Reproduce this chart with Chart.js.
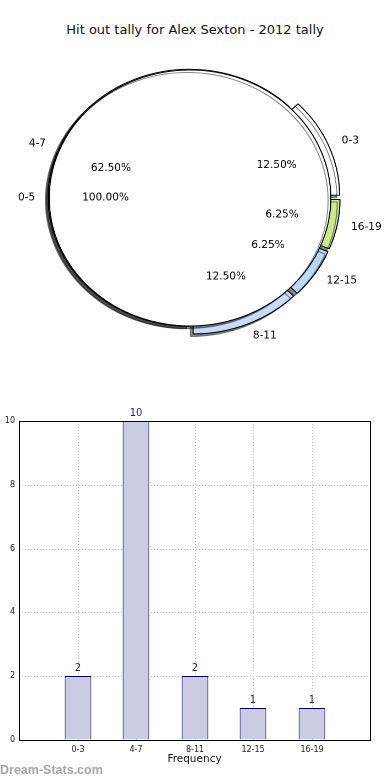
<!DOCTYPE html>
<html lang="en">
<head>
    <meta charset="UTF-8">
    <meta name="viewport" content="width=device-width, initial-scale=1.0">
    <title>Hit out tally for Alex Sexton - 2012 tally</title>
    <script src="https://cdn.jsdelivr.net/npm/chart.js"></script>
    <style>
        html, body { margin: 0; padding: 0; background: #fff; }
        body { width: 390px; height: 780px; position: relative; overflow: hidden; font-family: 'DejaVu Sans', sans-serif; }
        #title { position: absolute; left: 0; top: 22px; width: 390px; text-align: center; font-size: 13px; line-height: 16px; color: #111; }
        /* the pie is stretched a bit sideways, like the original */
        #pieBox { position: absolute; left: 13px; top: 50px; width: 354px; height: 296px; transform: scaleX(1.1); transform-origin: 50% 50%; }
        .layer { position: absolute; left: 0; top: 0; width: 100%; height: 100%; }
        #barBox { position: absolute; left: -12px; top: 400px; width: 402px; height: 380px; }
        #mark { position: absolute; left: 0; top: 763px; font: bold 12.5px 'Liberation Sans', sans-serif; color: #a6a6a6; }
    </style>
</head>
<body>
    <div id="title">Hit out tally for Alex Sexton - 2012 tally</div>
    <div id="pieBox">
        <div class="layer"><canvas id="pieBins"></canvas></div>
        <div class="layer"><canvas id="pieAll"></canvas></div>
    </div>
    <div id="barBox"><canvas id="bars"></canvas></div>
    <div id="mark">Dream-Stats.com</div>
    <script>
        const bins     = ['0-3', '4-7', '8-11', '12-15', '16-19'];
        const tally    = [2, 10, 2, 1, 1];
        const allBins  = ['0-5'];
        const allTally = [1];
        const yMax     = 10;
        const yStep    = 2;

        const binColors = ['#ffffff', '#ffffff', '#c8dcfa', '#bad8fb', '#cee98c'];
        const explode   = [8.5, 1, 8.5, 8.5, 8.5];   // px the slices are pushed out
        const SX = 1.1;                              // css stretch of the pie box
        const R  = 128;

        Chart.defaults.font.family = "'DejaVu Sans', sans-serif";
        Chart.defaults.color = '#222';

        const pieShadow = {
            id: 'pieShadow',
            beforeDatasetsDraw(chart) {
                const ctx = chart.ctx, k = chart.currentDevicePixelRatio;
                ctx.save();
                ctx.shadowColor = 'rgba(0,0,0,0.45)';
                ctx.shadowOffsetX = -2.5 * k;
                ctx.shadowOffsetY = 2.5 * k;
                ctx.shadowBlur = 0;
            },
            afterDatasetsDraw(chart) { chart.ctx.restore(); }
        };

        // labels of both pies go on the top canvas, so the big circle does not hide them
        let pieCharts = [];
        const pieText = {
            id: 'pieText',
            afterDraw(chart) {
                if (chart.canvas.id !== 'pieAll') return;
                const ctx = chart.ctx;
                ctx.save();
                ctx.fillStyle = '#000';
                ctx.font = "10.5px 'DejaVu Sans'";
                ctx.textBaseline = 'middle';
                pieCharts.forEach(pc => {
                    const vals = pc.data.datasets[0].data;
                    const total = vals.reduce((a, b) => a + b, 0);
                    pc.getDatasetMeta(0).data.forEach((arc, i) => {
                        const mid = (arc.startAngle + arc.endAngle) / 2;
                        const circ = arc.endAngle - arc.startAngle;
                        const shift = (arc.options.offset || 0) / 4 * (2 - Math.sin(Math.min(Math.PI, circ)));
                        const c = Math.cos(mid), s = Math.sin(mid);
                        const put = (txt, d, align) => {
                            const r = d * arc.outerRadius + shift;
                            ctx.save();
                            ctx.translate(arc.x + c * r, arc.y + s * r);
                            ctx.scale(1 / SX, 1);
                            ctx.textAlign = align;
                            ctx.fillText(txt, 0, 0);
                            ctx.restore();
                        };
                        put(pc.data.labels[i], 1.1, c < -1e-9 ? 'right' : 'left');
                        put((vals[i] / total * 100).toFixed(2) + '%', 0.6, 'center');
                    });
                });
                ctx.restore();
            }
        };

        function makePie(id, labels, data, colors, shifts, dash) {
            const total = data.reduce((a, b) => a + b, 0);
            const chart = new Chart(document.getElementById(id), {
                type: 'pie',
                data: {
                    labels: labels,
                    datasets: [{
                        data: data,
                        backgroundColor: colors,
                        borderColor: '#000',
                        borderWidth: 1,
                        borderDash: dash,
                        radius: R,
                        rotation: 90,
                        offset: data.map((v, i) => shifts[i] * 4 / (2 - Math.sin(Math.min(Math.PI, 2 * Math.PI * v / total))))
                    }]
                },
                options: {
                    responsive: true,
                    maintainAspectRatio: false,
                    devicePixelRatio: 2,
                    animation: false,
                    events: [],
                    layout: { padding: 0 },
                    plugins: { legend: { display: false }, tooltip: { enabled: false } }
                },
                plugins: [pieShadow, pieText]
            });
            pieCharts.push(chart);
            return chart;
        }

        // matplotlib goes counter-clockwise from 3 o'clock, chart.js clockwise
        const rev = bins.map((_, i) => bins.length - 1 - i);
        makePie('pieBins', rev.map(i => bins[i]), rev.map(i => tally[i]),
                rev.map(i => binColors[i]), rev.map(i => explode[i]), []);
        // full circle: stroke only the rim, skip the two radius lines of the path
        makePie('pieAll', allBins, allTally, ['#ffffff'], [0], [2 * Math.PI * R, 4 * R]);

        const frame = {
            id: 'frame',
            afterDatasetsDraw(chart) {
                const { ctx, chartArea: a } = chart;
                ctx.save();
                ctx.strokeStyle = '#000';
                ctx.lineWidth = 1;
                ctx.strokeRect(Math.round(a.left) + 0.5, Math.round(a.top) + 0.5,
                               Math.round(a.right - a.left), Math.round(a.bottom - a.top));
                ctx.restore();
            }
        };

        const valueText = {
            id: 'valueText',
            afterDatasetsDraw(chart) {
                const ctx = chart.ctx;
                ctx.save();
                ctx.fillStyle = '#1c1c8a';
                ctx.font = "10px 'DejaVu Sans'";
                ctx.textAlign = 'center';
                ctx.textBaseline = 'bottom';
                chart.getDatasetMeta(0).data.forEach((bar, i) => {
                    ctx.fillText(String(tally[i]), bar.x, bar.y - 3);
                });
                ctx.restore();
            }
        };

        new Chart(document.getElementById('bars'), {
            type: 'bar',
            data: {
                datasets: [{
                    data: tally.map((v, i) => ({ x: i + 1, y: v })),
                    backgroundColor: '#cbcbe2',
                    borderColor: '#00006a',
                    borderWidth: 1,
                    barPercentage: 0.46,
                    categoryPercentage: 1
                }]
            },
            options: {
                responsive: true,
                maintainAspectRatio: false,
                animation: false,
                events: [],
                layout: { padding: { top: 21, right: 20, left: 0, bottom: 0 } },
                plugins: { legend: { display: false }, tooltip: { enabled: false } },
                scales: {
                    x: {
                        type: 'linear', min: 0, max: bins.length + 1, offset: false, alignToPixels: true,
                        ticks: { stepSize: 1, autoSkip: false, maxRotation: 0, padding: 5, font: { size: 8 },
                                 callback: v => bins[v - 1] || '' },
                        grid: { color: '#c4c4c4', drawTicks: false, offset: false },
                        border: { display: false, dash: [1, 2] },
                        title: { display: true, text: 'Frequency', color: '#111', font: { size: 10.5 },
                                 padding: { top: 0, bottom: 14 } },
                        afterFit: s => { s.height = 40; }
                    },
                    y: {
                        min: 0, max: yMax, alignToPixels: true,
                        ticks: { stepSize: yStep, padding: 4, font: { size: 8 } },
                        grid: { color: '#c4c4c4', drawTicks: false },
                        border: { display: false, dash: [1, 2] },
                        title: { display: true, text: 'No. of Games', color: '#111', font: { size: 10 },
                                 padding: { top: 3, bottom: 0 } },
                        afterFit: s => { s.width = 31; }
                    }
                }
            },
            plugins: [frame, valueText]
        });
    </script>
</body>
</html>
